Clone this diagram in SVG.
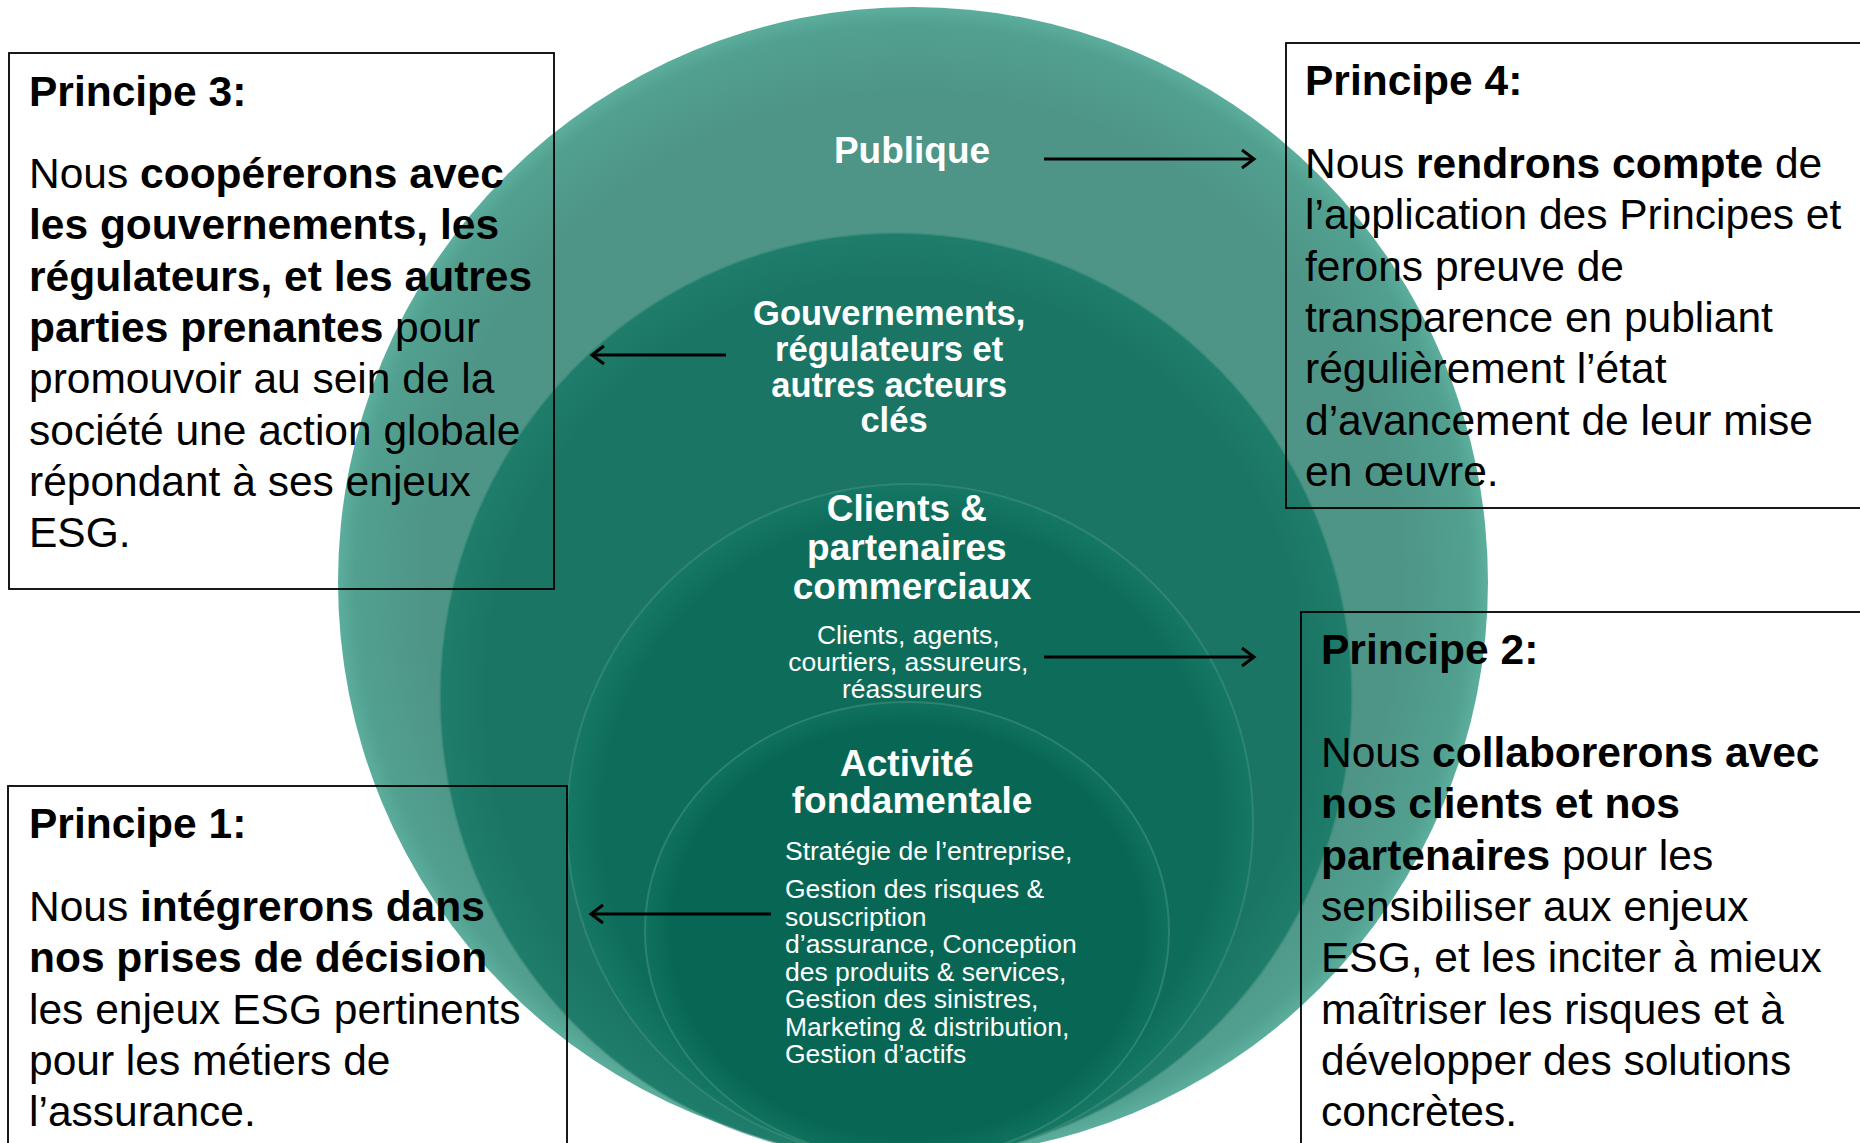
<svg xmlns="http://www.w3.org/2000/svg" width="1860" height="1143" viewBox="0 0 1860 1143">
  <defs>
    <style>
      .box { fill: none; stroke: #000; stroke-width: 1.8; }
      .t { font-family: "Liberation Sans", Arial, sans-serif; fill: #000; font-size: 42.5px; }
      .b { font-weight: bold; }
      .w { font-family: "Liberation Sans", Arial, sans-serif; fill: #fff; text-anchor: middle; font-weight: bold; }
      .ws { font-family: "Liberation Sans", Arial, sans-serif; fill: #fff; font-size: 26.5px; }
      .conn { stroke: #000; stroke-width: 3.2; fill: none; marker-end: url(#arr); }
      .rim { stroke: #3f8f7c; stroke-width: 2; stroke-opacity: 0.6; }
    </style>
    <marker id="arr" markerUnits="userSpaceOnUse" markerWidth="16" markerHeight="22" refX="13" refY="11" orient="auto">
      <path d="M1,2 L13,11 L1,20" fill="none" stroke="#000" stroke-width="3"/>
    </marker>
    <radialGradient id="g1" cx="0.5" cy="0.5" r="0.5">
      <stop offset="0.85" stop-color="#4e9587"/>
      <stop offset="0.97" stop-color="#52a090"/>
      <stop offset="1" stop-color="#5cae9c"/>
    </radialGradient>
    <radialGradient id="g2" cx="0.5" cy="0.5" r="0.5">
      <stop offset="0.9" stop-color="#1b7564"/>
      <stop offset="1" stop-color="#1f7d6b"/>
    </radialGradient>
    <radialGradient id="g3" cx="0.5" cy="0.5" r="0.5">
      <stop offset="0.9" stop-color="#0e6d5a"/>
      <stop offset="1" stop-color="#157864"/>
    </radialGradient>
    <radialGradient id="g4" cx="0.5" cy="0.5" r="0.5">
      <stop offset="0.9" stop-color="#086754"/>
      <stop offset="1" stop-color="#0f725e"/>
    </radialGradient>
  </defs>

  <rect width="1860" height="1143" fill="#fff"/>

  <g id="ring-publique">
    <ellipse cx="913" cy="582" rx="575" ry="575" fill="url(#g1)"/>
    <text class="w" x="912" y="163" font-size="37">Publique</text>
  </g>
  <g id="ring-gouvernements">
    <ellipse class="rim" cx="896" cy="696" rx="456" ry="463" fill="url(#g2)"/>
    <text class="w" font-size="34.5">
      <tspan x="894" y="325">Gouvernements,</tspan>
      <tspan x="894" y="361">régulateurs et</tspan>
      <tspan x="894" y="397">autres acteurs</tspan>
      <tspan x="894" y="432">clés</tspan>
    </text>
  </g>
  <g id="ring-clients">
    <ellipse class="rim" cx="910" cy="822" rx="343" ry="338" fill="url(#g3)"/>
    <text class="w" font-size="37">
      <tspan x="912" y="521">Clients &amp;</tspan>
      <tspan x="912" y="560">partenaires</tspan>
      <tspan x="912" y="599">commerciaux</tspan>
    </text>
    <text class="ws" text-anchor="middle">
      <tspan x="912" y="644">Clients, agents,</tspan>
      <tspan x="912" y="671">courtiers, assureurs,</tspan>
      <tspan x="912" y="698">réassureurs</tspan>
    </text>
  </g>
  <g id="ring-activite">
    <ellipse class="rim" cx="907" cy="931" rx="262" ry="229" fill="url(#g4)"/>
    <text class="w" font-size="37">
      <tspan x="912" y="776">Activité</tspan>
      <tspan x="912" y="813">fondamentale</tspan>
    </text>
    <text class="ws">
      <tspan x="785" y="860">Stratégie de l’entreprise,</tspan>
      <tspan x="785" y="898">Gestion des risques &amp;</tspan>
      <tspan x="785" y="925.5">souscription</tspan>
      <tspan x="785" y="953">d’assurance, Conception</tspan>
      <tspan x="785" y="980.5">des produits &amp; services,</tspan>
      <tspan x="785" y="1008">Gestion des sinistres,</tspan>
      <tspan x="785" y="1035.5">Marketing &amp; distribution,</tspan>
      <tspan x="785" y="1063">Gestion d’actifs</tspan>
    </text>
  </g>

  <g id="principe-3">
    <rect class="box" x="9" y="53" width="545" height="536"/>
    <text class="t b" x="29" y="106">Principe 3:</text>
    <text class="t">
      <tspan x="29" y="188">Nous <tspan class="b">coopérerons avec</tspan></tspan>
      <tspan x="29" y="239.3" class="b">les gouvernements, les</tspan>
      <tspan x="29" y="290.6" class="b">régulateurs, et les autres</tspan>
      <tspan x="29" y="341.9"><tspan class="b">parties prenantes</tspan> pour</tspan>
      <tspan x="29" y="393.2">promouvoir au sein de la</tspan>
      <tspan x="29" y="444.5">société une action globale</tspan>
      <tspan x="29" y="495.8">répondant à ses enjeux</tspan>
      <tspan x="29" y="547.1">ESG.</tspan>
    </text>
  </g>

  <g id="principe-4">
    <rect class="box" x="1286" y="43" width="590" height="465"/>
    <text class="t b" x="1305" y="95">Principe 4:</text>
    <text class="t">
      <tspan x="1305" y="178">Nous <tspan class="b">rendrons compte</tspan> de</tspan>
      <tspan x="1305" y="229.3">l’application des Principes et</tspan>
      <tspan x="1305" y="280.6">ferons preuve de</tspan>
      <tspan x="1305" y="331.9">transparence en publiant</tspan>
      <tspan x="1305" y="383.2">régulièrement l’état</tspan>
      <tspan x="1305" y="434.5">d’avancement de leur mise</tspan>
      <tspan x="1305" y="485.8">en œuvre.</tspan>
    </text>
  </g>

  <g id="principe-2">
    <rect class="box" x="1301" y="612" width="580" height="560"/>
    <text class="t b" x="1321" y="664">Principe 2:</text>
    <text class="t">
      <tspan x="1321" y="767">Nous <tspan class="b">collaborerons avec</tspan></tspan>
      <tspan x="1321" y="818.3" class="b">nos clients et nos</tspan>
      <tspan x="1321" y="869.6"><tspan class="b">partenaires</tspan> pour les</tspan>
      <tspan x="1321" y="920.9">sensibiliser aux enjeux</tspan>
      <tspan x="1321" y="972.2">ESG, et les inciter à mieux</tspan>
      <tspan x="1321" y="1023.5">maîtriser les risques et à</tspan>
      <tspan x="1321" y="1074.8">développer des solutions</tspan>
      <tspan x="1321" y="1126.1">concrètes.</tspan>
    </text>
  </g>

  <g id="principe-1">
    <rect class="box" x="8" y="786" width="559" height="400"/>
    <text class="t b" x="29" y="838">Principe 1:</text>
    <text class="t">
      <tspan x="29" y="921">Nous <tspan class="b">intégrerons dans</tspan></tspan>
      <tspan x="29" y="972.3" class="b">nos prises de décision</tspan>
      <tspan x="29" y="1023.6">les enjeux ESG pertinents</tspan>
      <tspan x="29" y="1074.9">pour les métiers de</tspan>
      <tspan x="29" y="1126.2">l’assurance.</tspan>
    </text>
  </g>

  <g id="connectors">
    <line class="conn" x1="1044" y1="159" x2="1254" y2="159"/>
    <line class="conn" x1="726" y1="355" x2="592" y2="355"/>
    <line class="conn" x1="1044" y1="657" x2="1254" y2="657"/>
    <line class="conn" x1="771" y1="914" x2="591" y2="914"/>
  </g>
</svg>
